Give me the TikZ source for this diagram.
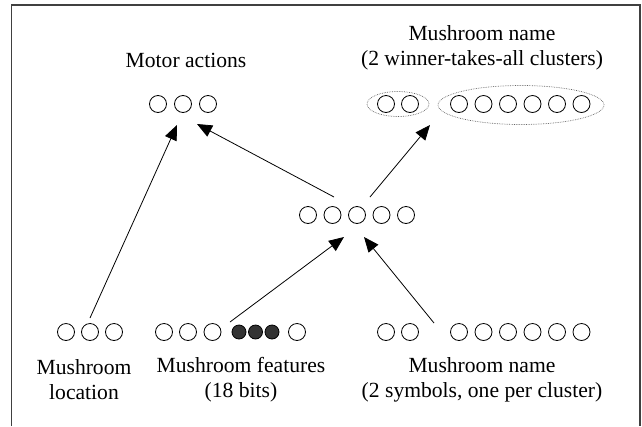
\documentclass[tikz,border=0pt]{standalone}
\usepackage{fontspec}
\setmainfont{Liberation Serif}
\usetikzlibrary{arrows.meta,shapes.geometric}
\begin{document}
\begin{tikzpicture}[x=1pt, y=-1pt,
		unit/.style={circle, draw, line width=0.8pt, inner sep=0pt, minimum size=17pt},
		fired/.style={unit, fill=black!80, minimum size=14pt},
		cluster/.style={ellipse, draw=black!60, densely dotted, line width=0.7pt, inner sep=0pt},
		label/.style={align=center, inner sep=0pt, font=\fontsize{21.6}{25}\selectfont},
		link/.style={line width=0.8pt, -{Triangle[length=15pt, width=12.5pt]}}]
		\useasboundingbox (0,0) rectangle (642,426);
		\draw[line width=1.5pt, black!75] (11.5,426) -- (11.5,5) -- (640,5) -- (640,426);
		% Labels
		\node[label] (Motor label) at (186,60) {Motor actions};
		\node[label] (Name out label) at (482,48) {Mushroom name\\(2 winner-takes-all clusters)};
		\node[label] (Location label) at (84,380) {Mushroom\\location};
		\node[label] (Features label) at (241,380) {Mushroom features\\(18 bits)};
		\node[label] (Name in label) at (482,380) {Mushroom name\\(2 symbols, one per cluster)};
		% Motor actions
		\node[unit] (act1) at (158,104) {};
		\node[unit] (act2) at (183,104) {};
		\node[unit] (act3) at (208,104) {};
		% Name output
		\node[unit] (say1) at (386,104) {};
		\node[unit] (say2) at (410,104) {};
		\node[unit] (sayb1) at (459,104) {};
		\node[unit] (sayb2) at (483.5,104) {};
		\node[unit] (sayb3) at (508,104) {};
		\node[unit] (sayb4) at (532.5,104) {};
		\node[unit] (sayb5) at (557,104) {};
		\node[unit] (sayb6) at (581.5,104) {};
		\node[cluster, minimum width=62pt, minimum height=25pt] (Cluster a) at (398,104) {};
		\node[cluster, minimum width=166pt, minimum height=39pt] (Cluster b) at (521,105) {};
		% Hidden
		\node[unit] (hid1) at (308,215) {};
		\node[unit] (hid2) at (332.5,215) {};
		\node[unit] (hid3) at (357,215) {};
		\node[unit] (hid4) at (381.5,215) {};
		\node[unit] (hid5) at (406,215) {};
		% Location
		\node[unit] (loc1) at (66,332) {};
		\node[unit] (loc2) at (90,332) {};
		\node[unit] (loc3) at (114,332) {};
		% Features
		\node[unit] (feat1) at (164,332) {};
		\node[unit] (feat2) at (188,332) {};
		\node[unit] (feat3) at (212.5,332) {};
		\node[fired] (feat4) at (239,332) {};
		\node[fired] (feat5) at (255.5,332) {};
		\node[fired] (feat6) at (272,332) {};
		\node[unit] (feat7) at (297,332) {};
		% Name input
		\node[unit] (hear1) at (386,332) {};
		\node[unit] (hear2) at (410,332) {};
		\node[unit] (hearb1) at (459,332) {};
		\node[unit] (hearb2) at (483.5,332) {};
		\node[unit] (hearb3) at (508,332) {};
		\node[unit] (hearb4) at (532.5,332) {};
		\node[unit] (hearb5) at (557,332) {};
		\node[unit] (hearb6) at (581.5,332) {};
		% Arrow ends
		\coordinate (Location out) at (90,318);
		\coordinate (Features out) at (230,322);
		\coordinate (Name in out) at (434,323);
		\coordinate (Hidden in a) at (344,237);
		\coordinate (Hidden in b) at (364,237);
		\coordinate (Hidden out a) at (334,197);
		\coordinate (Hidden out b) at (370,197);
		\coordinate (Motor in a) at (177,125);
		\coordinate (Motor in b) at (197,124);
		\coordinate (Name out in) at (430,125);
		% Arrows
		\draw[link] (Location out) -- (Motor in a);
		\draw[link] (Hidden out a) -- (Motor in b);
		\draw[link] (Hidden out b) -- (Name out in);
		\draw[link] (Features out) -- (Hidden in a);
		\draw[link] (Name in out) -- (Hidden in b);
	\end{tikzpicture}
\end{document}
